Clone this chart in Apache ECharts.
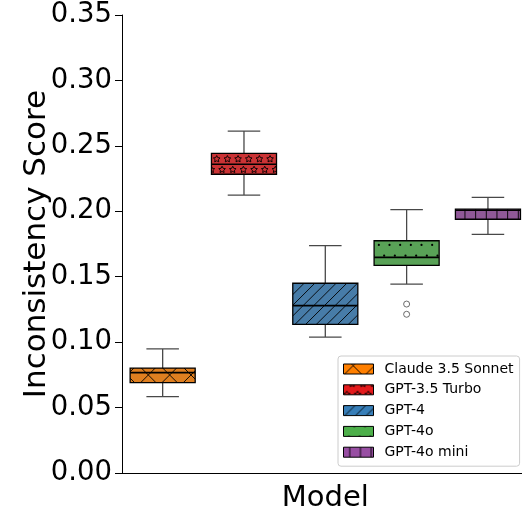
<!DOCTYPE html>
<html>
<head>
<meta charset="utf-8">
<script src="https://cdn.jsdelivr.net/npm/echarts@6/dist/echarts.min.js"></script>
<style>
  html, body { margin: 0; padding: 0; background: #fff; }
  #chart { width: 522px; height: 512px; }
</style>
</head>
<body>
<div id="chart"></div>
<script>
// data
var models = ['Claude 3.5 Sonnet', 'GPT-3.5 Turbo', 'GPT-4', 'GPT-4o', 'GPT-4o mini'];
var whiskerLow = [0.0583, 0.2124, 0.1039, 0.1444, 0.1824];
var q1 = [0.0690, 0.2283, 0.1136, 0.1587, 0.1939];
var medians = [0.0767, 0.2359, 0.1279, 0.1648, 0.2008];
var q3 = [0.0802, 0.2443, 0.1450, 0.1775, 0.2016];
var whiskerHigh = [0.0948, 0.2613, 0.1737, 0.2012, 0.2107];
var outlierModel = [3, 3];
var outlierValue = [0.1291, 0.1213];
var yMin = 0, yMax = 0.35, yStep = 0.05;

// colours: box fill (desaturated) and legend patch (full)
var boxColors = ['#df7f20', '#cb3335', '#477ca8', '#59a257', '#905998'];
var legendColors = ['#ff7f00', '#e41a1c', '#377eb8', '#4daf4a', '#984ea3'];
var hatches = ['x', '*', '//', '.', '|'];

var S = 64 / 6; // hatch spacing

function drawHatch(ctx, kind) {
  var k, r, j;
  ctx.strokeStyle = '#000';
  ctx.fillStyle = '#000';
  ctx.lineWidth = 0.9;
  ctx.beginPath();
  if (kind === '|') {
    for (k = -1; k <= 7; k++) {
      var x = 6.3 + k * S;
      ctx.moveTo(x, 0); ctx.lineTo(x, 64);
    }
    ctx.stroke();
  } else if (kind === '//') {
    for (k = -1; k <= 14; k++) {
      var c = 0.7 + k * S;
      ctx.moveTo(c, 0); ctx.lineTo(c - 64, 64);
    }
    ctx.stroke();
  } else if (kind === 'x') {
    for (k = -1; k <= 7; k++) {
      var c1 = 11.3 + k * 2 * S;
      ctx.moveTo(c1, 0); ctx.lineTo(c1 - 64, 64);
      var c2 = 8 + k * 2 * S - 64;
      ctx.moveTo(c2, 0); ctx.lineTo(c2 + 64, 64);
    }
    ctx.stroke();
  } else if (kind === '.') {
    for (r = -1; r <= 7; r++) {
      for (j = -1; j <= 7; j++) {
        var odd = ((r % 2) + 2) % 2;
        var dx = 5.5 + j * S + (odd ? S / 2 : 0);
        var dy = 10.3 + r * S;
        ctx.moveTo(dx + 1.1, dy);
        ctx.arc(dx, dy, 1.1, 0, Math.PI * 2);
      }
    }
    ctx.fill();
  } else if (kind === '*') {
    for (r = -1; r <= 7; r++) {
      for (j = -1; j <= 7; j++) {
        var odd2 = ((r % 2) + 2) % 2;
        var sx = 3.4 + j * S + (odd2 ? S / 2 : 0);
        var sy = 9.7 + r * S;
        for (var p = 0; p < 10; p++) {
          var rad = p % 2 === 0 ? 3.5 : 1.75;
          var a = -Math.PI / 2 + p * Math.PI / 5;
          var px = sx + rad * Math.cos(a), py = sy + rad * Math.sin(a);
          if (p === 0) ctx.moveTo(px, py); else ctx.lineTo(px, py);
        }
        ctx.closePath();
      }
    }
    ctx.stroke();
  }
}

function makePattern(bg, kind) {
  var cv = document.createElement('canvas');
  cv.width = 64; cv.height = 64;
  var ctx = cv.getContext('2d');
  ctx.fillStyle = bg;
  ctx.fillRect(0, 0, 64, 64);
  drawHatch(ctx, kind);
  return { image: cv, repeat: 'repeat' };
}

var boxFills = boxColors.map(function (c, i) { return makePattern(c, hatches[i]); });
var legendFills = legendColors.map(function (c, i) { return makePattern(c, hatches[i]); });

var whiskerColor = '#484848';

function renderBox(params, api) {
  var x = api.value(0);
  var lo = api.coord([x, api.value(1)]);
  var b1 = api.coord([x, api.value(2)]);
  var md = api.coord([x, api.value(3)]);
  var b3 = api.coord([x, api.value(4)]);
  var hi = api.coord([x, api.value(5)]);
  var band = api.size([1, 0])[0];
  var w = band * 0.8;
  var cap = w / 2;
  var cx = lo[0];
  var line = { stroke: whiskerColor, lineWidth: 1.3 };
  return {
    type: 'group',
    children: [
      { type: 'line', shape: { x1: cx, y1: b3[1], x2: cx, y2: hi[1] }, style: line },
      { type: 'line', shape: { x1: cx, y1: b1[1], x2: cx, y2: lo[1] }, style: line },
      { type: 'line', shape: { x1: cx - cap / 2, y1: hi[1], x2: cx + cap / 2, y2: hi[1] }, style: line },
      { type: 'line', shape: { x1: cx - cap / 2, y1: lo[1], x2: cx + cap / 2, y2: lo[1] }, style: line },
      {
        type: 'rect',
        shape: { x: cx - w / 2, y: b3[1], width: w, height: b1[1] - b3[1] },
        style: { fill: boxFills[params.seriesIndex], stroke: '#000', lineWidth: 1.3 }
      },
      { type: 'line', shape: { x1: cx - w / 2, y1: md[1], x2: cx + w / 2, y2: md[1] }, style: { stroke: '#000', lineWidth: 1.6 } }
    ]
  };
}

var series = models.map(function (name, i) {
  return {
    name: name,
    type: 'custom',
    renderItem: renderBox,
    data: [[i, whiskerLow[i], q1[i], medians[i], q3[i], whiskerHigh[i]]],
    encode: { x: 0, y: [1, 2, 3, 4, 5] },
    z: 2
  };
});
series.push({
  type: 'scatter',
  data: outlierValue.map(function (v, i) { return [outlierModel[i], v]; }),
  symbol: 'circle',
  symbolSize: 6,
  itemStyle: { color: '#fff', borderColor: whiskerColor, borderWidth: 1 },
  z: 3
});

var chart = echarts.init(document.getElementById('chart'), null, { renderer: 'canvas' });
chart.setOption({
  animation: false,
  grid: { left: 122, right: -6.6, top: 15, bottom: 39, containLabel: false, outerBoundsMode: 'none' },
  xAxis: {
    type: 'category',
    data: models,
    name: 'Model',
    nameLocation: 'middle',
    nameGap: 11,
    nameMoveOverlap: false,
    nameTextStyle: { fontFamily: 'DejaVu Sans', fontSize: 29, color: '#000', verticalAlign: 'top' },
    axisLine: { lineStyle: { color: '#000', width: 1 } },
    axisTick: { alignWithLabel: true, length: 7, lineStyle: { color: '#000' } },
    axisLabel: { show: false },
    splitLine: { show: false }
  },
  yAxis: {
    type: 'value',
    min: yMin,
    max: yMax,
    interval: yStep,
    name: 'Inconsistency Score',
    nameLocation: 'middle',
    nameGap: 70,
    nameMoveOverlap: false,
    nameTextStyle: { fontFamily: 'DejaVu Sans', fontSize: 31, color: '#000' },
    axisLine: { show: true, lineStyle: { color: '#000', width: 1 } },
    axisTick: { show: true, length: 7, lineStyle: { color: '#000' } },
    axisLabel: {
      fontFamily: 'DejaVu Sans', fontSize: 27.5, color: '#000', margin: 10,
      formatter: function (v) { return v.toFixed(2); }
    },
    splitLine: { show: false }
  },
  legend: {
    orient: 'vertical',
    left: 338,
    top: 356,
    itemWidth: 30,
    itemHeight: 10,
    itemGap: 6.8,
    padding: [6, 6, 7, 5],
    selectedMode: false,
    backgroundColor: 'rgba(255,255,255,0.8)',
    borderColor: '#cccccc',
    borderWidth: 1,
    borderRadius: 3,
    textStyle: { fontFamily: 'DejaVu Sans', fontSize: 14, color: '#000', padding: [0, 0, 0, 6] },
    data: models.map(function (name, i) {
      return {
        name: name,
        icon: 'rect',
        itemStyle: { color: legendFills[i], borderColor: '#000', borderWidth: 1 }
      };
    })
  },
  series: series
});
</script>
</body>
</html>
